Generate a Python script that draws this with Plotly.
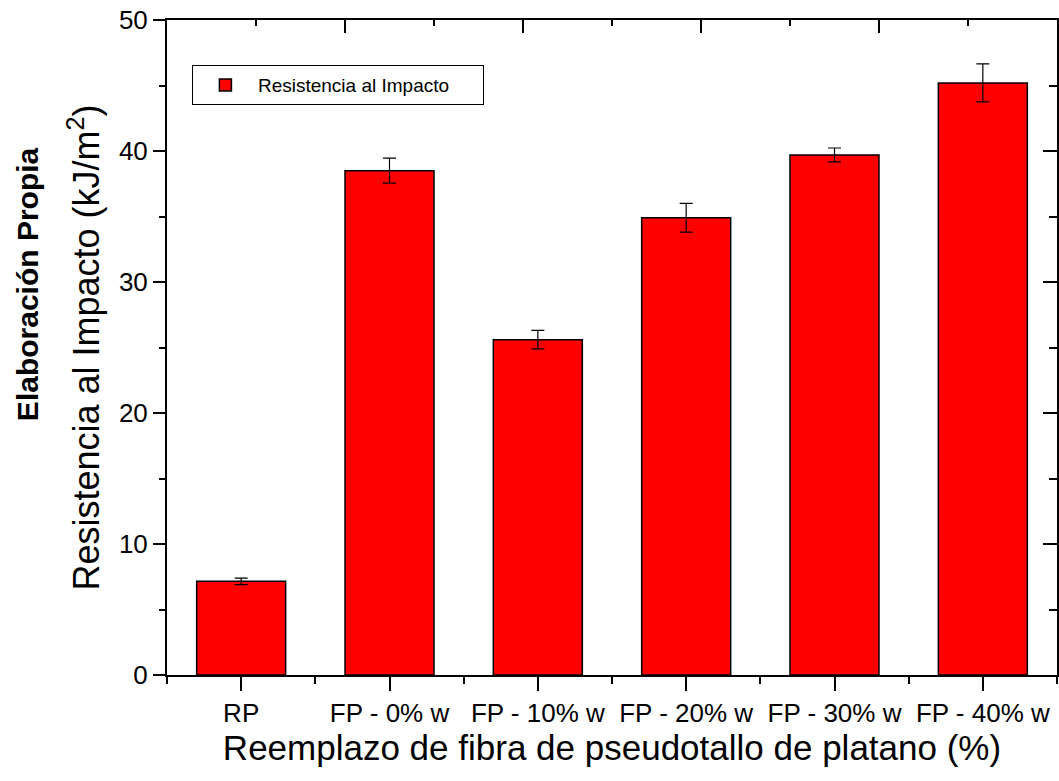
import plotly.graph_objects as go

categories = ["RP", "FP - 0% w", "FP - 10% w", "FP - 20% w", "FP - 30% w", "FP - 40% w"]
impact = [7.15, 38.5, 25.6, 34.9, 39.7, 45.2]
impact_err = [0.25, 0.95, 0.71, 1.1, 0.53, 1.45]
y_ticks = [0, 10, 20, 30, 40, 50]

pos = list(range(len(categories)))
FONT = "Liberation Sans, Arial, sans-serif"

fig = go.Figure()
fig.add_trace(go.Bar(
    x=pos, y=impact, width=0.6,
    name="Resistencia al Impacto",
    marker=dict(color="#FF0000", line=dict(color="black", width=1.5)),
    error_y=dict(type="data", array=impact_err, visible=True,
                 color="black", thickness=1.2, width=6.5),
    xaxis="x", yaxis="y",
))
# invisible trace to host the mirror (top/right) axes
fig.add_trace(go.Scatter(x=[0], y=[0], mode="markers", marker=dict(opacity=0),
                         showlegend=False, hoverinfo="skip", xaxis="x2", yaxis="y2"))

fig.update_layout(
    width=1059, height=781,
    margin=dict(l=167, r=2, t=20, b=106, autoexpand=False),
    paper_bgcolor="white", plot_bgcolor="white",
    font=dict(family=FONT, color="black"),
    xaxis=dict(
        automargin=False,
        range=[-0.5, len(categories) - 0.5],
        tickvals=pos, ticktext=categories,
        ticks="outside", ticklen=14, tickwidth=2, tickcolor="black",
        minor=dict(tickvals=[p - 0.5 for p in pos] + [pos[-1] + 0.5],
                   ticks="outside", ticklen=7, tickwidth=2, tickcolor="black"),
        showline=True, linewidth=2, linecolor="black",
        showgrid=False, zeroline=False,
        tickfont=dict(size=26),
        title=dict(text="Reemplazo de fibra de pseudotallo de platano (%)",
                   font=dict(size=35), standoff=6),
    ),
    xaxis2=dict(
        automargin=False,
        overlaying="x", side="top", anchor="y2",
        range=[0, 5], tickvals=[0, 1, 2, 3, 4, 5], showticklabels=False,
        ticks="inside", ticklen=13, tickwidth=2, tickcolor="black",
        minor=dict(dtick=0.5, ticks="inside", ticklen=6, tickwidth=2, tickcolor="black"),
        showline=True, linewidth=2, linecolor="black",
        showgrid=False, zeroline=False,
    ),
    yaxis=dict(
        automargin=False,
        range=[0, 50], tickvals=y_ticks,
        ticks="outside", ticklen=12, tickwidth=2, tickcolor="black",
        minor=dict(dtick=5, ticks="outside", ticklen=6, tickwidth=2, tickcolor="black"),
        showline=True, linewidth=2, linecolor="black",
        showgrid=False, zeroline=False,
        tickfont=dict(size=26),
        title=dict(text="Resistencia al Impacto (kJ/m<sup>2</sup>)",
                   font=dict(size=36), standoff=8),
    ),
    yaxis2=dict(
        automargin=False,
        overlaying="y", side="right", anchor="x2",
        range=[0, 50], tickvals=y_ticks, showticklabels=False,
        ticks="inside", ticklen=14, tickwidth=2, tickcolor="black",
        minor=dict(dtick=5, ticks="inside", ticklen=8, tickwidth=2, tickcolor="black"),
        showline=True, linewidth=2, linecolor="black",
        showgrid=False, zeroline=False,
    ),
    legend=dict(
        orientation="h",
        x=0.028, y=0.931, xanchor="left", yanchor="top",
        bgcolor="white", bordercolor="black", borderwidth=1,
        font=dict(size=19), itemwidth=55,
        entrywidth=220, entrywidthmode="pixels",
    ),
    showlegend=True,
    annotations=[dict(
        text="<b>Elaboración Propia</b>", xref="paper", yref="paper",
        x=-0.156, y=0.597, xanchor="center", yanchor="middle",
        textangle=-90, showarrow=False,
        font=dict(size=30, family=FONT, color="black"),
    )],
)

fig.write_html(
    "out.html",
    config={"displayModeBar": False},
    post_script="document.body.style.margin='0';document.body.style.overflow='hidden';",
)
